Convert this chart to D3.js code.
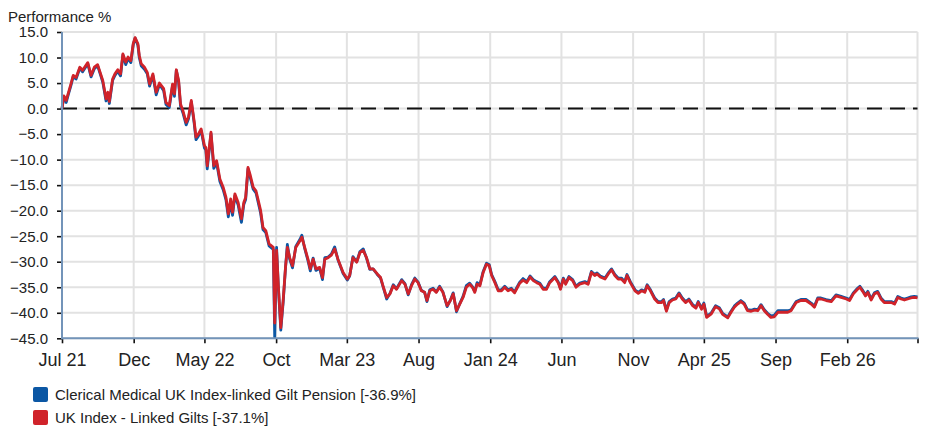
<!DOCTYPE html>
<html>
<head>
<meta charset="utf-8">
<script src="https://cdn.jsdelivr.net/npm/d3@7"></script>
<style>
  body { margin: 0; background: #fff; }
  svg { display: block; font-family: "Liberation Sans", Arial, Helvetica, sans-serif; }
</style>
</head>
<body>
<svg id="chart" width="928" height="426"></svg>
<script>
// Observation dates (shared by both series)
const dates = [
  // 2021
  "2021-07-01","2021-07-05","2021-07-10","2021-07-14","2021-07-20","2021-07-25","2021-07-31",
  "2021-08-08","2021-08-14","2021-08-25",
  "2021-09-01","2021-09-08","2021-09-15","2021-09-26","2021-09-30",
  "2021-10-03","2021-10-07","2021-10-10","2021-10-17","2021-10-22","2021-10-28",
  "2021-11-03","2021-11-08","2021-11-14","2021-11-19","2021-11-25","2021-11-30",
  "2021-12-04","2021-12-10","2021-12-13","2021-12-17","2021-12-24","2021-12-30",
  // 2022
  "2022-01-04","2022-01-11","2022-01-18","2022-01-25",
  "2022-02-03","2022-02-08","2022-02-15","2022-02-22","2022-02-26",
  "2022-03-02","2022-03-07","2022-03-11","2022-03-16","2022-03-23","2022-03-28",
  "2022-04-03","2022-04-09","2022-04-13","2022-04-18","2022-04-24",
  "2022-05-01","2022-05-04","2022-05-07","2022-05-15","2022-05-21","2022-05-27",
  "2022-06-03","2022-06-10","2022-06-16","2022-06-21","2022-06-26","2022-06-30",
  "2022-07-05","2022-07-12","2022-07-19","2022-07-24","2022-07-28",
  "2022-08-02","2022-08-07","2022-08-13","2022-08-19","2022-08-24","2022-08-29",
  "2022-09-03","2022-09-09","2022-09-16","2022-09-25","2022-09-28",
  "2022-10-02","2022-10-06","2022-10-11","2022-10-16","2022-10-21","2022-10-25","2022-10-30",
  "2022-11-05","2022-11-12","2022-11-21","2022-11-25",
  "2022-12-01","2022-12-08","2022-12-13","2022-12-19","2022-12-25",
  // 2023
  "2023-01-02","2023-01-08","2023-01-13","2023-01-20","2023-01-27",
  "2023-02-03","2023-02-10","2023-02-21",
  "2023-03-02","2023-03-07","2023-03-14","2023-03-22","2023-03-29",
  "2023-04-05","2023-04-12","2023-04-19","2023-04-26",
  "2023-05-05","2023-05-12","2023-05-17","2023-05-25",
  "2023-06-01","2023-06-08","2023-06-15","2023-06-26",
  "2023-07-03","2023-07-10","2023-07-17","2023-07-24","2023-07-31",
  "2023-08-07","2023-08-14","2023-08-19","2023-08-25",
  "2023-09-01","2023-09-08","2023-09-15","2023-09-22",
  "2023-10-01","2023-10-08","2023-10-14","2023-10-21","2023-10-28",
  "2023-11-04","2023-11-11","2023-11-18","2023-11-24","2023-11-29",
  "2023-12-04","2023-12-10","2023-12-17","2023-12-24","2023-12-30",
  // 2024
  "2024-01-04","2024-01-11","2024-01-18","2024-01-25",
  "2024-02-01","2024-02-08","2024-02-15","2024-02-22","2024-02-26",
  "2024-03-04","2024-03-11","2024-03-19","2024-03-26",
  "2024-04-02","2024-04-09","2024-04-16","2024-04-23","2024-04-30",
  "2024-05-07","2024-05-18","2024-05-25","2024-05-30",
  "2024-06-05","2024-06-10","2024-06-17","2024-06-25",
  "2024-07-02","2024-07-10","2024-07-21","2024-07-28",
  "2024-08-04","2024-08-11","2024-08-16","2024-08-23",
  "2024-09-02","2024-09-09","2024-09-16","2024-09-23","2024-09-30",
  "2024-10-07","2024-10-14","2024-10-19","2024-10-26",
  "2024-11-05","2024-11-12","2024-11-19","2024-11-26",
  "2024-12-01","2024-12-08","2024-12-17","2024-12-24",
  // 2025
  "2025-01-01","2025-01-05","2025-01-11","2025-01-17","2025-01-24","2025-01-31",
  "2025-02-07","2025-02-14","2025-02-21","2025-02-28",
  "2025-03-08","2025-03-15","2025-03-20","2025-03-27",
  "2025-04-01","2025-04-07","2025-04-17","2025-04-26",
  "2025-05-04","2025-05-11","2025-05-22","2025-05-29",
  "2025-06-05","2025-06-12","2025-06-19","2025-06-26",
  "2025-07-03","2025-07-11","2025-07-18","2025-07-25",
  "2025-08-01","2025-08-08","2025-08-15","2025-08-22","2025-08-29",
  "2025-09-06","2025-09-16","2025-09-27",
  "2025-10-04","2025-10-15","2025-10-25",
  "2025-11-05","2025-11-16","2025-11-23","2025-11-30",
  "2025-12-07","2025-12-18","2025-12-29",
  // 2026
  "2026-01-08","2026-01-19","2026-01-30",
  "2026-02-06","2026-02-14","2026-02-23","2026-02-28",
  "2026-03-06","2026-03-12","2026-03-17","2026-03-24","2026-03-31",
  "2026-04-07","2026-04-14","2026-04-21","2026-04-28",
  "2026-05-06","2026-05-13","2026-05-20","2026-05-27",
  "2026-06-03","2026-06-10","2026-06-17","2026-06-24",
  "2026-07-01"
];

// Clerical Medical UK Index-linked Gilt Pension, cumulative performance %
const fundValues = [
  // 2021
  0.0, 2.3, 1.2, 2.6, 4.5, 6.3, 5.8,
  7.9, 7.2, 8.8,
  6.2, 7.8, 8.4, 5.2, 3.1,
  1.5, 2.9, 1.0, 5.5, 6.5, 7.3,
  6.4, 10.5, 8.6, 9.8, 9.0, 12.5,
  13.8, 12.4, 10.0, 8.4, 7.7, 6.8,
  // 2022
  4.4, 6.5, 2.7, 4.7,
  3.5, 0.8, 0.2, 4.5, 2.4,
  7.5, 5.1, 0.5, -0.8, -3.2, -2.0,
  1.3, -2.8, -6.1, -5.4, -4.3,
  -7.7, -8.1, -11.8, -4.9, -11.7, -10.6,
  -14.3, -15.9, -17.9, -21.2, -18.1, -20.9,
  -17.1, -18.9, -22.3, -18.8, -17.8,
  -11.8, -13.6, -15.8, -16.5, -18.5, -20.5,
  -23.7, -24.3, -26.9, -27.6, -44.8,
  -27.2, -35.4, -43.4, -38.0, -31.3, -26.6, -29.5,
  -31.2, -27.0, -25.6, -24.8,
  -27.4, -29.8, -31.8, -29.3, -31.7,
  // 2023
  -31.3, -33.5, -29.2, -29.1, -28.5,
  -27.1, -29.6, -32.3,
  -33.6, -32.8, -29.0, -30.0, -28.0,
  -27.5, -29.3, -31.5, -31.4,
  -32.5, -33.2, -34.8, -37.3,
  -36.2, -34.5, -35.3, -33.5,
  -34.3, -36.5, -34.5, -33.2, -34.0,
  -35.6, -36.0, -37.8, -35.5,
  -35.2, -35.9, -34.8, -35.9,
  -38.8, -37.5, -36.1, -39.8, -38.2,
  -36.8, -34.7, -34.2, -34.9, -35.8,
  -34.1, -34.5, -31.9, -30.3, -30.6,
  // 2024
  -32.5, -33.9, -35.5, -35.5,
  -34.8, -35.5, -35.2, -35.9, -35.2,
  -34.0, -33.3, -33.9, -32.8,
  -33.5, -33.9, -34.2, -35.2, -35.2,
  -33.9, -32.9, -33.9, -35.2,
  -33.2, -34.2, -32.9, -33.5,
  -34.8, -34.2, -33.9, -34.2,
  -31.9, -32.5, -32.2, -32.8,
  -33.2, -32.2, -31.4, -32.5, -33.2,
  -33.2, -33.9, -32.5, -33.9,
  -35.5, -36.0, -35.5, -35.8,
  -34.5, -35.5, -37.1, -37.8,
  // 2025
  -37.8, -37.4, -39.5, -37.8, -37.3, -37.1,
  -36.1, -37.1, -37.8, -37.3,
  -38.4, -38.9, -37.8, -39.1,
  -38.1, -40.7, -40.0, -38.6,
  -39.0, -40.1, -40.8, -39.7,
  -38.7, -38.1, -37.6, -38.1,
  -39.4, -39.5, -39.3, -39.4,
  -38.4, -39.4, -40.1, -40.6, -40.5,
  -39.6, -39.6, -39.6,
  -39.4, -37.8, -37.4,
  -37.4, -38.1, -38.7, -37.1,
  -37.1, -37.4, -37.6,
  // 2026
  -36.5, -36.8, -37.1,
  -37.4, -36.1, -35.2, -34.8,
  -35.6, -36.5, -35.8, -37.3, -36.1,
  -35.8, -37.1, -37.8, -37.8,
  -37.8, -38.1, -36.8, -37.1,
  -37.3, -37.1, -36.9, -36.8,
  -36.9
];

// UK Index - Linked Gilts sector average, cumulative performance %
const indexValues = [
  // 2021
  0.0, 2.5, 1.6, 2.9, 4.8, 6.5, 6.1,
  8.1, 7.5, 9.0,
  6.5, 8.1, 8.6, 5.5, 3.5,
  1.9, 3.2, 1.4, 5.8, 6.8, 7.6,
  6.8, 10.7, 9.1, 10.1, 9.4, 12.7,
  13.9, 12.7, 10.4, 8.8, 8.1, 7.1,
  // 2022
  4.8, 6.8, 3.2, 5.0,
  3.9, 1.2, 0.6, 4.8, 2.9,
  7.6, 5.5, 0.9, -0.4, -2.7, -1.7,
  1.6, -2.4, -5.6, -5.0, -4.0,
  -7.3, -7.6, -11.2, -4.6, -11.2, -10.2,
  -13.8, -15.4, -17.4, -20.6, -17.7, -20.3,
  -16.7, -18.4, -21.6, -18.4, -17.4,
  -11.5, -13.1, -15.4, -16.1, -18.0, -20.0,
  -23.3, -23.9, -26.5, -27.2, -42.0,
  -27.8, -35.0, -42.9, -37.6, -31.1, -27.2, -29.2,
  -30.8, -27.2, -25.9, -25.2,
  -27.2, -29.5, -31.4, -29.5, -31.4,
  // 2023
  -31.1, -33.1, -29.5, -29.2, -28.7,
  -27.5, -29.5, -32.1,
  -33.4, -32.7, -29.2, -30.1, -28.2,
  -27.8, -29.2, -31.4, -31.4,
  -32.4, -33.1, -34.7, -37.0,
  -36.3, -34.7, -35.4, -33.7,
  -34.4, -36.3, -34.7, -33.4, -34.1,
  -35.7, -36.0, -37.6, -35.7,
  -35.4, -36.0, -35.0, -36.0,
  -38.6, -37.6, -36.3, -39.6, -38.3,
  -37.0, -35.0, -34.4, -35.0, -36.0,
  -34.4, -34.7, -32.1, -30.5, -30.8,
  // 2024
  -32.7, -34.1, -35.7, -35.7,
  -35.0, -35.7, -35.4, -36.1, -35.4,
  -34.2, -33.6, -34.1, -33.0,
  -33.7, -34.1, -34.4, -35.4, -35.4,
  -34.1, -33.1, -34.1, -35.4,
  -33.4, -34.4, -33.1, -33.7,
  -35.0, -34.4, -34.1, -34.4,
  -32.1, -32.7, -32.4, -33.0,
  -33.4, -32.4, -31.6, -32.7, -33.4,
  -33.4, -34.1, -32.7, -34.1,
  -35.7, -36.2, -35.7, -36.0,
  -34.7, -35.7, -37.3, -38.0,
  // 2025
  -38.0, -37.6, -39.7, -38.0, -37.5, -37.3,
  -36.3, -37.3, -38.0, -37.5,
  -38.6, -39.1, -38.0, -39.3,
  -38.3, -40.9, -40.2, -38.8,
  -39.2, -40.3, -41.0, -39.9,
  -38.9, -38.3, -37.8, -38.3,
  -39.6, -39.7, -39.5, -39.6,
  -38.6, -39.6, -40.3, -40.9, -40.8,
  -39.9, -39.9, -39.9,
  -39.6, -38.0, -37.6,
  -37.6, -38.3, -38.9, -37.3,
  -37.3, -37.6, -37.8,
  // 2026
  -36.7, -37.0, -37.3,
  -37.6, -36.3, -35.4, -35.0,
  -35.8, -36.7, -36.0, -37.5, -36.3,
  -36.0, -37.3, -38.0, -38.0,
  -38.0, -38.3, -37.0, -37.3,
  -37.5, -37.3, -37.1, -37.0,
  -37.1
];

const seriesNames = ["Clerical Medical UK Index-linked Gilt Pension", "UK Index - Linked Gilts"];
const seriesColors = ["#0b57a4", "#d0232a"];

const yTickValues = [15, 10, 5, 0, -5, -10, -15, -20, -25, -30, -35, -40, -45];
const xTickDates = [
  "2021-07-01","2021-12-01","2022-05-01","2022-10-01","2023-03-01","2023-08-01",
  "2024-01-01","2024-06-01","2024-11-01","2025-04-01","2025-09-01","2026-02-01","2026-07-01"
];

// ---- layout ----
const plot = { left: 62, right: 917.5, top: 32, bottom: 338.3 };
const textColor = "#222";
const gridColor = "#e2e2e2";
const axisColor = "#7394b9";

const parse = d3.timeParse("%Y-%m-%d");
const parsedDates = dates.map(parse);
const tickDates = xTickDates.map(parse);

const x = d3.scaleTime()
  .domain(d3.extent(parsedDates))
  .range([plot.left, plot.right]);

const y = d3.scaleLinear()
  .domain([d3.min(yTickValues), d3.max(yTickValues)])
  .range([plot.bottom, plot.top]);

const svg = d3.select("#chart");

// Title
svg.append("text")
  .attr("x", 8).attr("y", 22)
  .attr("font-size", 15)
  .attr("fill", textColor)
  .text("Performance %");

// Grid lines
const grid = svg.append("g").attr("class", "grid");
grid.selectAll("line.h").data(yTickValues).join("line")
  .attr("class", "h")
  .attr("x1", plot.left).attr("x2", plot.right)
  .attr("y1", d => y(d)).attr("y2", d => y(d))
  .attr("stroke", gridColor).attr("stroke-width", 2);
grid.selectAll("line.v").data(tickDates).join("line")
  .attr("class", "v")
  .attr("x1", d => x(d)).attr("x2", d => x(d))
  .attr("y1", plot.top).attr("y2", plot.bottom)
  .attr("stroke", gridColor).attr("stroke-width", 2);

// Zero reference line
svg.append("line")
  .attr("x1", plot.left).attr("x2", plot.right)
  .attr("y1", y(0)).attr("y2", y(0))
  .attr("stroke", "#111").attr("stroke-width", 2)
  .attr("stroke-dasharray", "15,8");

// Series lines: fund first, sector index drawn over it
const series = [
  { name: seriesNames[0], color: seriesColors[0], values: fundValues },
  { name: seriesNames[1], color: seriesColors[1], values: indexValues }
];

const line = d3.line()
  .x((d, i) => x(parsedDates[i]))
  .y(d => y(d));

svg.append("g").attr("class", "series")
  .selectAll("path").data(series).join("path")
  .attr("d", s => line(s.values))
  .attr("fill", "none")
  .attr("stroke", s => s.color)
  .attr("stroke-width", 2.8)
  .attr("stroke-linejoin", "round");

// Y axis
const yAxis = svg.append("g")
  .attr("transform", `translate(${plot.left},0)`)
  .call(d3.axisLeft(y).tickValues(yTickValues).tickFormat(d3.format(".1f")).tickSize(5).tickPadding(9));
yAxis.select(".domain").remove();
yAxis.selectAll(".tick line").attr("stroke", "#111").attr("stroke-width", 1.6);
yAxis.selectAll(".tick text")
  .attr("font-size", 15)
  .attr("font-family", "Liberation Sans, Arial, sans-serif")
  .attr("fill", textColor);

// X axis
const yearLabel = d3.timeFormat("%b %y");
const monthLabel = d3.timeFormat("%b");
const xAxis = svg.append("g")
  .attr("transform", `translate(0,${plot.bottom})`)
  .call(d3.axisBottom(x)
    .tickValues(tickDates)
    .tickSize(5)
    .tickPadding(10)
    .tickFormat((d, i) => {
      if (i === tickDates.length - 1) return "";
      if (i === 0 || d.getFullYear() !== tickDates[i - 1].getFullYear()) return yearLabel(d);
      return monthLabel(d);
    }));
xAxis.select(".domain").remove();
xAxis.selectAll(".tick line").attr("stroke", "#111").attr("stroke-width", 1.6);
xAxis.selectAll(".tick text")
  .attr("font-size", 18)
  .attr("font-family", "Liberation Sans, Arial, sans-serif")
  .attr("fill", textColor);

// Axis lines
svg.append("line")
  .attr("x1", plot.left).attr("x2", plot.left)
  .attr("y1", plot.top).attr("y2", plot.bottom + 1)
  .attr("stroke", axisColor).attr("stroke-width", 2);
svg.append("line")
  .attr("x1", plot.left).attr("x2", plot.right + 1)
  .attr("y1", plot.bottom).attr("y2", plot.bottom)
  .attr("stroke", axisColor).attr("stroke-width", 2);

// Legend
const legend = svg.append("g").attr("transform", "translate(33,387)");
const items = legend.selectAll("g").data(series).join("g")
  .attr("transform", (d, i) => `translate(0,${i * 23})`);
items.append("rect")
  .attr("width", 15).attr("height", 15).attr("rx", 2)
  .attr("fill", d => d.color);
items.append("text")
  .attr("x", 22).attr("y", 13)
  .attr("font-size", 15)
  .attr("fill", textColor)
  .text(d => `${d.name} [${d.values[d.values.length - 1].toFixed(1)}%]`);
</script>
</body>
</html>
